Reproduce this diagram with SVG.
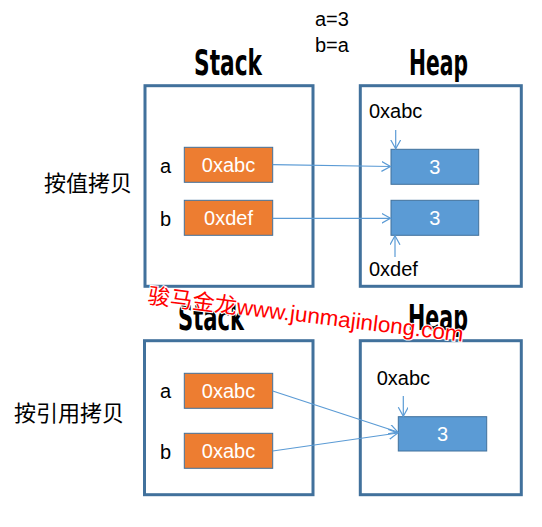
<svg xmlns="http://www.w3.org/2000/svg" width="542" height="527" viewBox="0 0 542 527">
<style>
.frame{fill:none;stroke:#41719C;stroke-width:3}
.var{fill:#ED7D31;stroke:#41719C;stroke-width:1}
.val{fill:#5B9BD5;stroke:#41719C;stroke-width:1}
.t{font-family:"Liberation Sans",Arial,sans-serif;font-size:20px;fill:#000}
.w{font-family:"Liberation Sans",Arial,sans-serif;font-size:20px;fill:#fff;text-anchor:middle}
.title{font-family:"DejaVu Sans Condensed","DejaVu Sans",sans-serif;font-weight:bold;font-size:35px;fill:#000}
.cn{font-family:"Noto Sans CJK SC","Noto Sans",sans-serif;font-size:22px;fill:#000}
.c{fill:none;stroke:#5B9BD5;stroke-width:1.2}
.wm{font-family:"Liberation Sans","Noto Sans CJK SC",sans-serif;font-size:22px;fill:#FF0000;stroke:#fff;stroke-width:2;paint-order:stroke}
</style>
<defs>
<marker id="ah" markerUnits="userSpaceOnUse" markerWidth="12" markerHeight="12" refX="9" refY="5" orient="auto">
<path d="M0,0 L9,5 L0,10" fill="none" stroke="#5B9BD5" stroke-width="1.2"/>
</marker>
</defs>
<rect width="542" height="527" fill="#fff"/>

<g id="code">
<text class="t" x="315" y="26" font-size="18">a=3</text>
<text class="t" x="315" y="52" font-size="18">b=a</text>
</g>

<g id="labels">
<text class="cn" x="44" y="191">按值拷贝</text>
<text class="cn" x="14" y="421">按引用拷贝</text>
</g>

<g id="stack1">
<text class="title" x="194" y="75" textLength="68" lengthAdjust="spacingAndGlyphs">Stack</text>
<rect class="frame" x="145" y="85.7" width="168" height="200.6"/>
<text class="t" x="160" y="173">a</text>
<text class="t" x="160" y="226">b</text>
</g>
<g id="stack1-a"><rect class="var" x="184.3" y="147.3" width="88.4" height="35"/><text class="w" x="228.5" y="172">0xabc</text></g>
<g id="stack1-b"><rect class="var" x="184.3" y="200.3" width="88.4" height="35"/><text class="w" x="228.5" y="225">0xdef</text></g>

<g id="heap1">
<text class="title" x="409" y="75" textLength="59" lengthAdjust="spacingAndGlyphs">Heap</text>
<rect class="frame" x="360.3" y="85.7" width="161" height="200.6"/>
<text class="t" x="369" y="118">0xabc</text>
<text class="t" x="369" y="276">0xdef</text>
</g>
<g id="heap1-v1"><rect class="val" x="391" y="149.3" width="87.7" height="35"/><text class="w" x="434.8" y="174">3</text></g>
<g id="heap1-v2"><rect class="val" x="391" y="200.3" width="87.7" height="35"/><text class="w" x="434.8" y="225">3</text></g>

<g id="stack2">
<text class="title" x="178" y="330" textLength="66" lengthAdjust="spacingAndGlyphs">Stack</text>
<rect class="frame" x="144.5" y="340.7" width="168.5" height="154"/>
<text class="t" x="160" y="398">a</text>
<text class="t" x="160" y="459">b</text>
</g>
<g id="stack2-a"><rect class="var" x="184.3" y="373.3" width="88.4" height="35"/><text class="w" x="228.5" y="398">0xabc</text></g>
<g id="stack2-b"><rect class="var" x="184.3" y="433.3" width="88.4" height="35"/><text class="w" x="228.5" y="458">0xabc</text></g>

<g id="heap2">
<text class="title" x="408" y="330" textLength="60" lengthAdjust="spacingAndGlyphs">Heap</text>
<rect class="frame" x="360.3" y="340.7" width="161" height="154"/>
<text class="t" x="376.7" y="385">0xabc</text>
</g>
<g id="heap2-v"><rect class="val" x="398.3" y="416.7" width="88.4" height="34.3"/><text class="w" x="442.5" y="441">3</text></g>

<g id="connectors">
<line class="c" x1="272.7" y1="164.7" x2="390.5" y2="166.5" marker-end="url(#ah)"/>
<line class="c" x1="272.7" y1="218.3" x2="390.5" y2="218.3" marker-end="url(#ah)"/>
<line class="c" x1="395.7" y1="130" x2="395.7" y2="148.8" marker-end="url(#ah)"/>
<line class="c" x1="395" y1="257" x2="395" y2="235.8" marker-end="url(#ah)"/>
<line class="c" x1="272.7" y1="391" x2="397.8" y2="432" marker-end="url(#ah)"/>
<line class="c" x1="272.7" y1="451" x2="397.8" y2="433" marker-end="url(#ah)"/>
<line class="c" x1="403.3" y1="396" x2="403.3" y2="416.2" marker-end="url(#ah)"/>
</g>

<g id="watermark">
<text class="wm" x="147" y="303" transform="rotate(7 147 303)" textLength="318" lengthAdjust="spacingAndGlyphs">骏马金龙www.junmajinlong.com</text>
</g>
</svg>
